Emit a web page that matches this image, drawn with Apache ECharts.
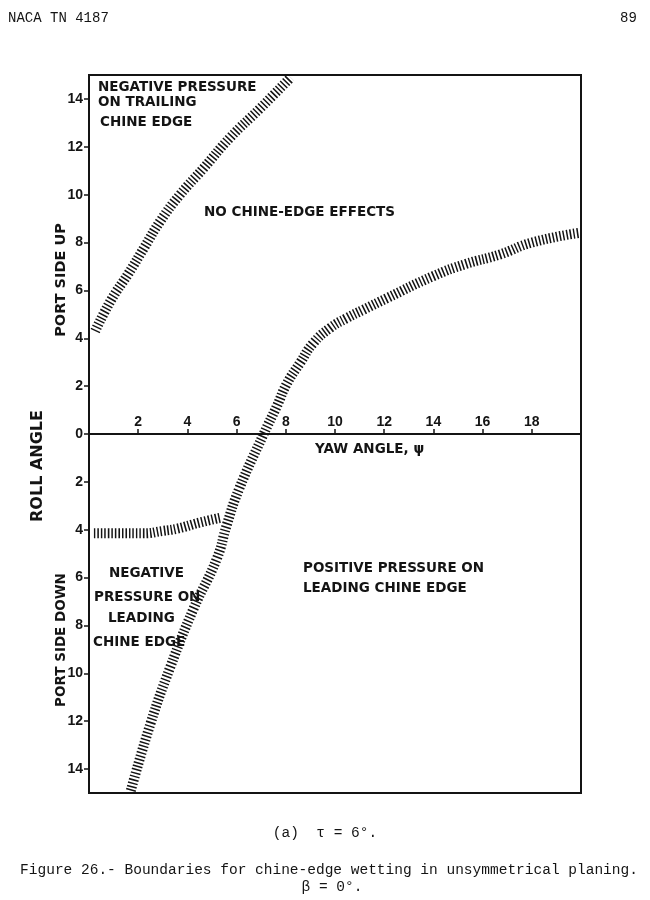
<!DOCTYPE html>
<html>
<head>
<meta charset="utf-8">
<script src="https://cdn.jsdelivr.net/npm/echarts@6/dist/echarts.min.js"></script>
<style>
  html, body { margin: 0; padding: 0; background: #fff; }
  #chart { width: 650px; height: 900px; }
</style>
</head>
<body>
<div id="chart"></div>
<script>
// boundary curves, [yaw angle, roll angle] (roll: + port side up, - port side down)
const trailingBoundary = [
  [0.25, 4.3], [0.9, 5.6], [1.6, 6.7], [2.25, 7.8], [2.9, 8.9], [3.7, 10.0],
  [4.65, 11.1], [5.75, 12.4], [6.95, 13.6], [8.2, 14.9]
];
const leadingBoundary = [
  [1.7, -14.9], [2.5, -12.1], [3.3, -9.75], [4.25, -7.3], [5.2, -5.2], [5.6, -3.8],
  [6.1, -2.3], [7.1, 0], [7.64, 1.17], [8.04, 2.1], [8.58, 2.97], [9.12, 3.8],
  [9.8, 4.43], [10.47, 4.84], [11.15, 5.19], [12.1, 5.67], [14.0, 6.6],
  [15.3, 7.1], [16.7, 7.5], [18.0, 8.0], [19.9, 8.4]
];
const lowerBoundary = [
  [0.2, -4.15], [1.2, -4.15], [2.2, -4.15], [3.0, -4.05], [3.6, -3.95], [4.5, -3.7], [5.35, -3.5]
];
const rollTicks = [-14, -12, -10, -8, -6, -4, -2, 0, 2, 4, 6, 8, 10, 12, 14];

const chart = echarts.init(document.getElementById('chart'), null, { renderer: 'canvas' });

const ink = '#141414';
const boldFont = 'bold 13.5px "DejaVu Sans"';
const monoFont = '14.5px "Liberation Mono"';

// grid box in px; the yaw axis sits on roll = 0, half way down
const gridTop = 75, gridBottom = 107, gridH = 900 - gridTop - gridBottom;

const hatch = {
  color: ink,
  width: 10,
  type: [1.5, 2],
  cap: 'butt'
};

const bandSeries = (data) => ({
  type: 'line',
  data: data,
  smooth: 0.5,
  showSymbol: false,
  silent: true,
  lineStyle: hatch
});

const label = (text, x, y, font) => ({
  type: 'text',
  x: x,
  y: y,
  style: { text: text, font: font || boldFont, fill: ink, verticalAlign: 'middle' }
});

const vlabel = (text, x, y, font) => ({
  type: 'text',
  x: x,
  y: y,
  rotation: Math.PI / 2,
  style: { text: text, font: font || boldFont, fill: ink, align: 'center', verticalAlign: 'middle' }
});

const option = {
  backgroundColor: '#fff',
  animation: false,
  grid: {
    left: 89, right: 69, top: gridTop, bottom: gridBottom,
    show: true, borderColor: ink, borderWidth: 2
  },
  xAxis: {
    type: 'value',
    min: 0, max: 20, interval: 2,
    position: 'bottom',
    offset: -gridH / 2,
    axisLine: { onZero: false, lineStyle: { color: ink, width: 2 } },
    axisTick: { inside: true, length: 5, lineStyle: { color: ink, width: 1.5 } },
    axisLabel: {
      inside: true, margin: 5, showMinLabel: false, showMaxLabel: false,
      color: ink, fontWeight: 'bold', fontSize: 14, fontFamily: 'Liberation Sans'
    },
    splitLine: { show: false }
  },
  yAxis: {
    type: 'value',
    min: -15, max: 15,
    axisLine: { show: true, onZero: false, lineStyle: { color: ink, width: 2 } },
    axisTick: { show: true, length: 5, customValues: rollTicks, lineStyle: { color: ink, width: 1.5 } },
    axisLabel: {
      customValues: rollTicks, margin: 6,
      color: ink, fontWeight: 'bold', fontSize: 14, fontFamily: 'Liberation Sans',
      formatter: (v) => String(Math.abs(v))
    },
    splitLine: { show: false }
  },
  series: [
    bandSeries(trailingBoundary),
    bandSeries(leadingBoundary),
    bandSeries(lowerBoundary)
  ],
  graphic: [
    label('NACA TN 4187', 8, 18, '14px "Liberation Mono"'),
    label('89', 620, 18, '14px "Liberation Mono"'),

    label('NEGATIVE PRESSURE', 98, 87),
    label('ON TRAILING', 98, 102),
    label('CHINE EDGE', 100, 122),
    label('NO CHINE-EDGE EFFECTS', 204, 212),
    label('POSITIVE PRESSURE ON', 303, 568),
    label('LEADING CHINE EDGE', 303, 588),
    label('NEGATIVE', 109, 573),
    label('PRESSURE ON', 94, 597),
    label('LEADING', 108, 618),
    label('CHINE EDGE', 93, 642),
    label('YAW ANGLE, \u03c8', 315, 449),

    vlabel('ROLL ANGLE', 38, 466, 'bold 16px "DejaVu Sans"'),
    vlabel('PORT SIDE UP', 61, 280, 'bold 14.5px "DejaVu Sans"'),
    vlabel('PORT SIDE DOWN', 61, 640, 'bold 13.5px "DejaVu Sans"'),

    {
      type: 'text', x: 325, y: 833,
      style: { text: '(a)  \u03c4 = 6\u00b0.', font: monoFont, fill: ink, align: 'center', verticalAlign: 'middle' }
    },
    {
      type: 'text', x: 329, y: 870,
      style: { text: 'Figure 26.- Boundaries for chine-edge wetting in unsymmetrical planing.', font: monoFont, fill: ink, align: 'center', verticalAlign: 'middle' }
    },
    {
      type: 'text', x: 332, y: 887,
      style: { text: '\u03b2 = 0\u00b0.', font: monoFont, fill: ink, align: 'center', verticalAlign: 'middle' }
    }
  ]
};

chart.setOption(option);
</script>
</body>
</html>
